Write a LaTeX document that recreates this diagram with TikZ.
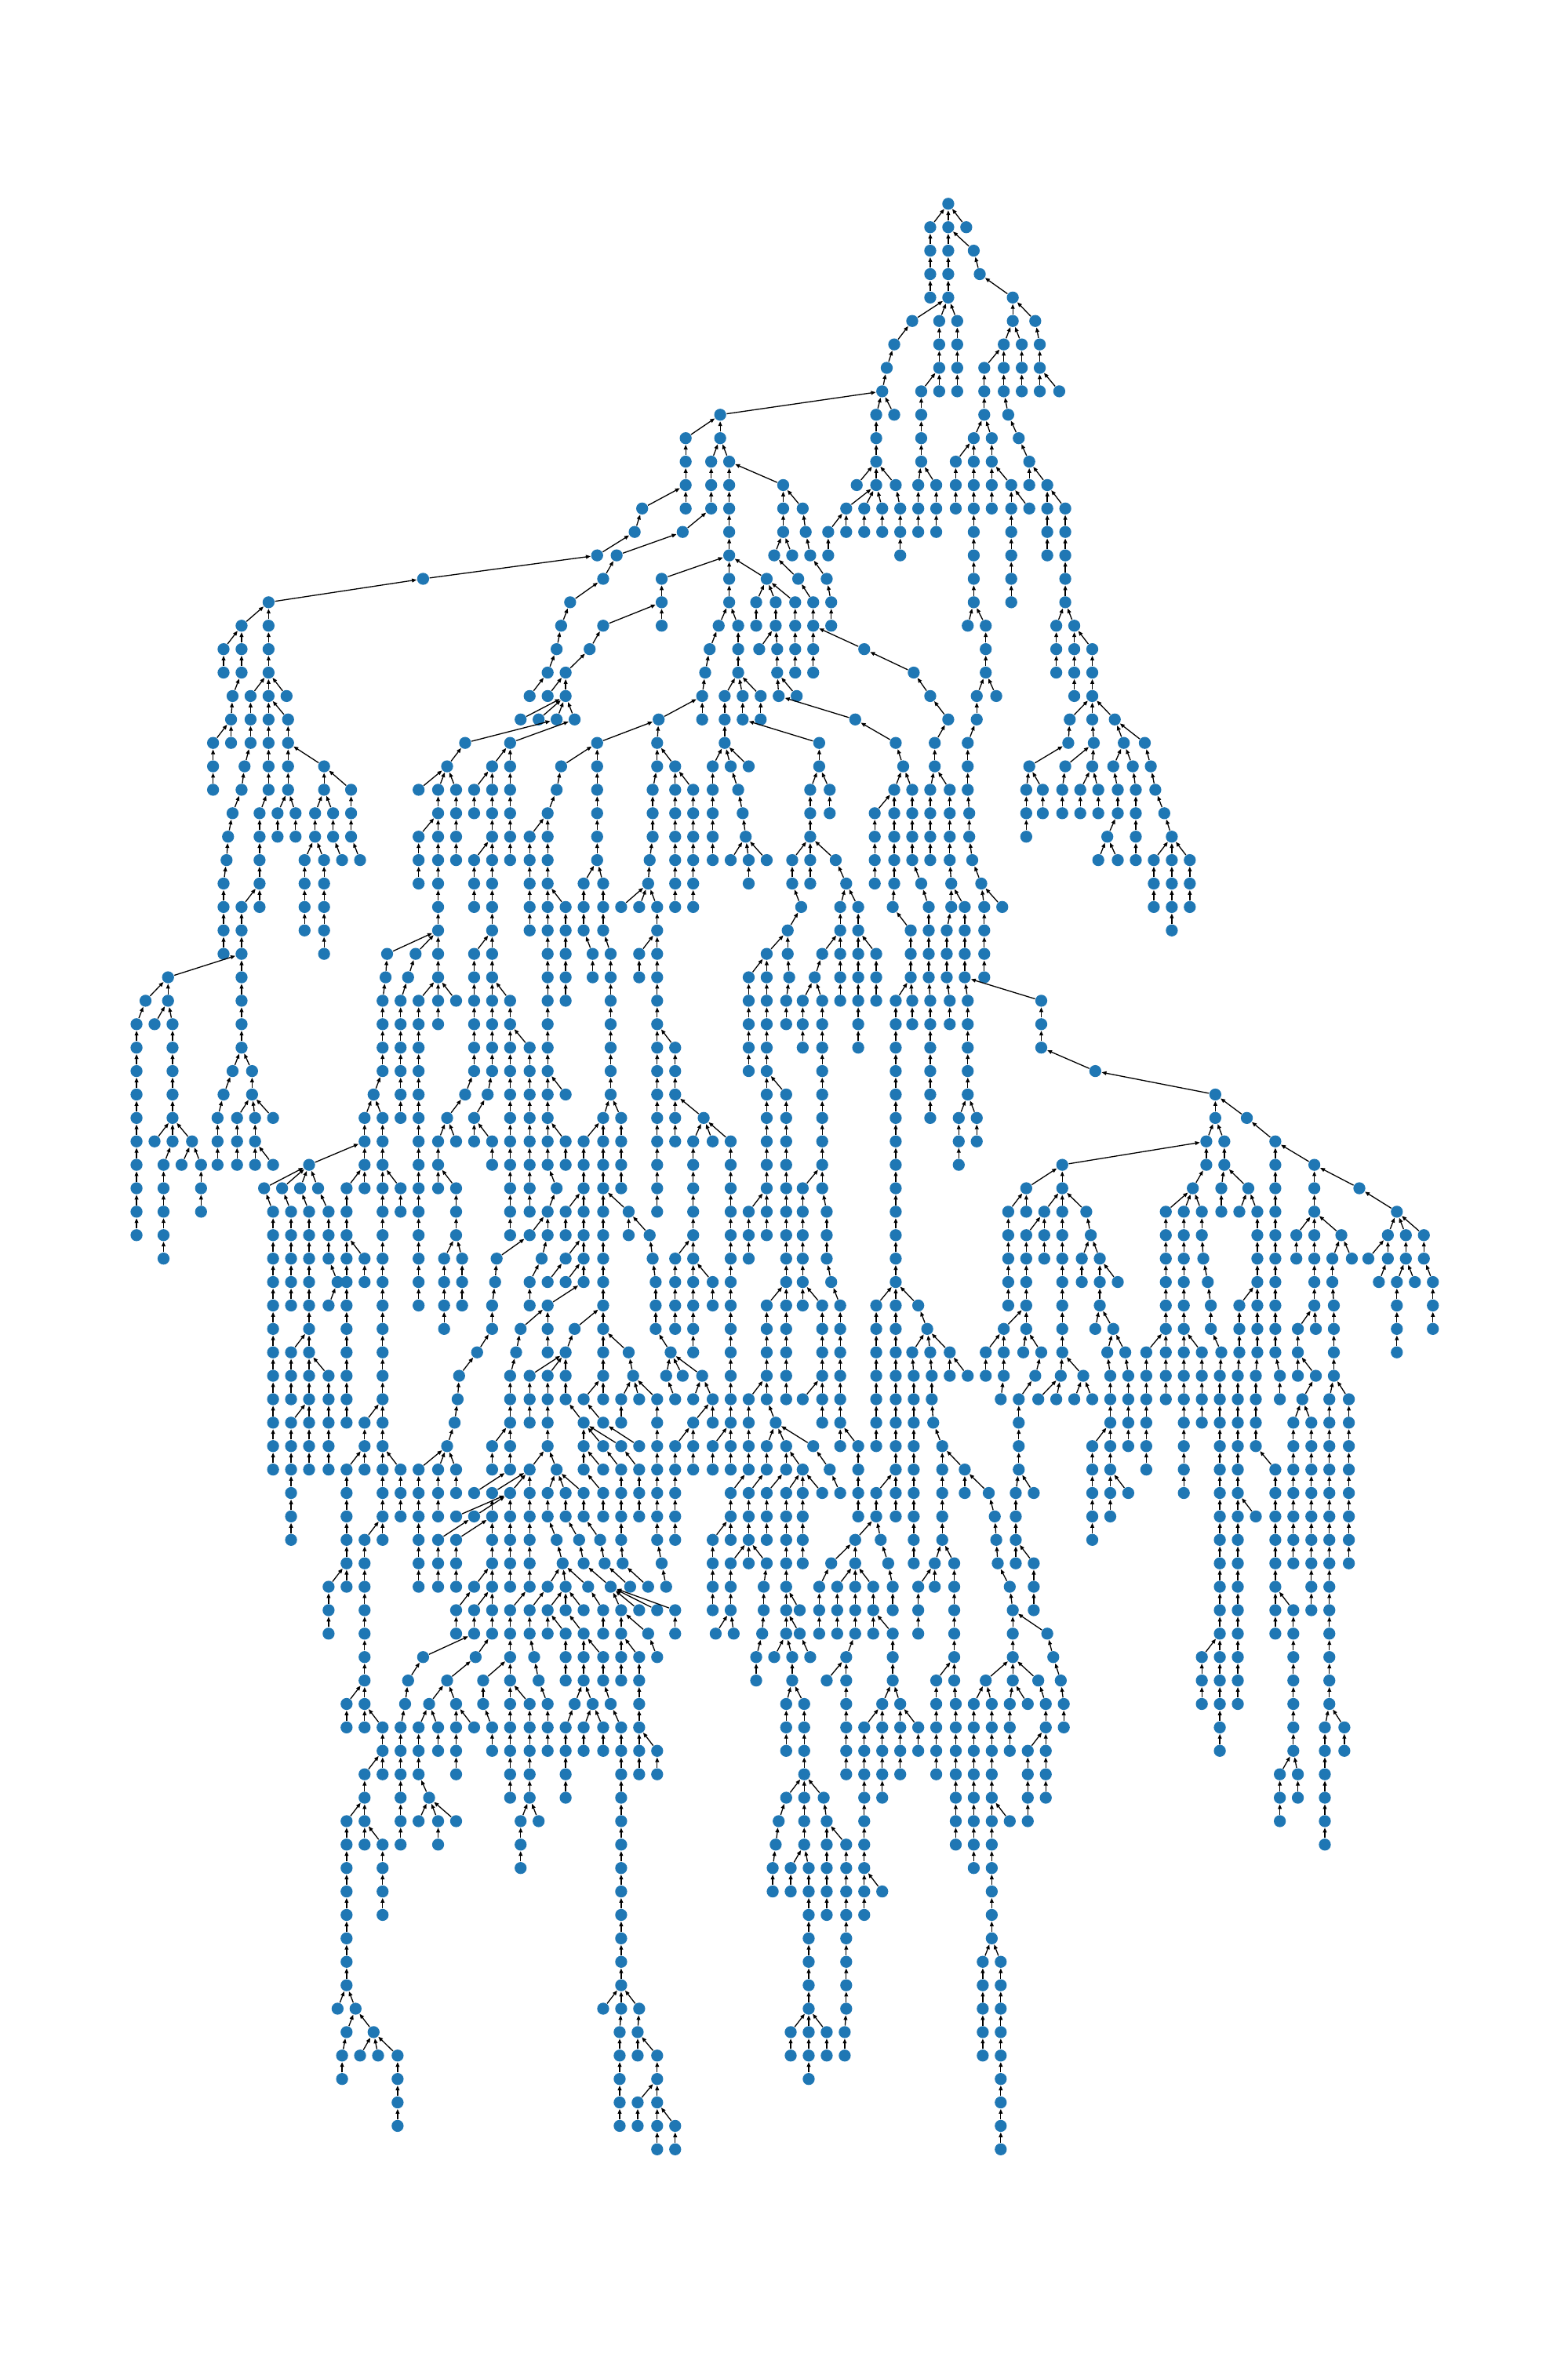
\documentclass[tikz,border=0pt]{standalone}
\usetikzlibrary{arrows.meta}
\definecolor{nxblue}{HTML}{1F77B4}
\tikzset{
  dot/.style={circle, fill=nxblue, draw=none, inner sep=0pt, minimum size=0.153cm},
  edge/.style={-{Triangle[length=0.06cm,width=0.048cm]}, line width=0.37pt, black}
}
\newcommand\lev[2]{%
  \pgfmathtruncatemacro\prevlev{#1-1}%
  \foreach \x/\p in {#2} {
    \node[dot] (n#1x\x) at (\x,#1) {};
    \draw[edge] (n#1x\x) -- (n\prevlev x\p);
  }%
}
\begin{document}
\begin{tikzpicture}[x=0.0191388cm, y=-0.29895cm]
\useasboundingbox (0,-8.694) rectangle (1045,91.69);
\node[dot] (n0x632) at (632,0) {};
\lev{1}{620/632,632/632,644/632}
\lev{2}{620/620,632/632,649/632}
\lev{3}{620/620,632/632,653/649}
\lev{4}{620/620,632/632,675/653}
\lev{5}{608/632,626/632,638/632,675/675,690/675}
\lev{6}{596/608,626/626,638/638,669/675,681/675,693/690}
\lev{7}{591/596,626/626,638/638,656/669,669/669,681/681,693/693}
\lev{8}{588/591,614/626,626/626,638/638,656/656,669/669,681/681,693/693,706/693}
\lev{9}{480/588,584/588,596/588,614/614,656/656,672/669}
\lev{10}{457/480,480/480,584/584,614/614,649/656,661/656,679/672}
\lev{11}{457/457,474/480,486/480,584/584,614/614,637/649,649/649,661/661,686/679}
\lev{12}{457/457,474/474,486/486,522/486,571/584,584/584,597/584,612/614,624/614,637/637,649/649,661/661,674/661,686/686,698/686}
\lev{13}{428/457,457/457,474/474,486/486,522/522,535/522,564/584,576/584,588/584,600/597,612/612,624/624,637/637,649/649,661/661,674/674,686/674,698/698,710/698}
\lev{14}{423/428,455/474,486/486,522/522,537/535,552/564,564/564,576/576,588/588,600/600,612/612,624/624,649/649,674/674,698/698,710/710}
\lev{15}{398/423,411/455,486/486,516/522,528/522,540/537,552/552,600/600,649/649,674/674,698/698,710/710}
\lev{16}{282/398,402/411,441/486,486/486,511/486,532/516,551/540,649/649,674/674,710/710}
\lev{17}{179/282,380/402,441/441,486/486,504/511,517/511,530/511,542/532,554/551,649/649,674/674,710/710}
\lev{18}{161/179,179/179,374/380,402/441,441/441,479/486,492/486,504/504,517/517,530/530,542/542,554/554,645/649,657/649,704/710,716/710}
\lev{19}{149/161,161/161,179/179,371/374,393/402,473/479,492/492,506/517,518/517,530/530,542/542,576/542,657/657,704/704,716/716,728/716}
\lev{20}{149/149,161/161,179/179,365/371,377/393,470/473,492/492,518/518,530/530,542/542,609/576,657/657,704/704,716/716,728/728}
\lev{21}{155/161,167/179,179/179,191/179,353/365,365/377,377/377,468/470,483/492,495/492,507/492,519/518,531/518,620/609,651/657,664/657,716/716,728/728}
\lev{22}{154/155,167/167,179/179,192/179,347/377,359/377,371/377,383/377,439/468,468/468,483/483,495/495,507/507,570/519,632/620,651/651,713/728,728/728,743/728}
\lev{23}{142/154,154/154,167/167,179/179,192/192,310/371,340/383,398/439,438/439,483/483,546/495,597/570,623/632,645/651,712/713,729/728,749/743,763/743}
\lev{24}{142/142,163/167,179/179,192/192,216/192,298/310,328/340,340/340,374/398,398/398,438/438,450/438,475/483,487/483,499/483,546/546,602/597,623/623,645/645,686/712,710/729,728/729,742/749,755/749,767/763}
\lev{25}{142/142,161/163,179/179,192/192,216/216,234/216,279/298,292/298,304/298,316/328,328/328,340/340,371/374,398/398,435/438,450/450,462/450,475/475,492/487,540/546,553/546,596/602,608/602,620/623,633/623,645/645,684/686,695/686,708/710,720/728,732/728,745/742,757/755,770/767}
\lev{26}{155/161,173/179,185/192,197/192,210/216,222/216,234/234,292/292,304/304,316/316,328/328,340/340,365/371,398/398,435/435,450/450,462/462,475/475,495/492,540/540,553/553,583/596,596/596,608/608,620/620,633/633,646/645,684/684,695/695,708/708,720/720,732/732,745/745,757/757,776/770}
\lev{27}{152/155,173/173,185/185,197/197,210/210,222/222,234/234,279/292,292/292,304/304,328/328,340/340,353/365,365/365,398/398,435/435,450/450,462/462,475/475,497/495,540/540,583/583,596/596,608/608,620/620,633/633,646/646,684/684,738/745,757/757,781/776}
\lev{28}{151/152,173/173,203/210,216/210,228/222,240/234,279/279,292/292,304/304,316/328,328/328,340/340,353/353,365/365,398/398,433/435,450/450,462/462,475/475,487/497,499/497,511/497,528/540,540/540,557/540,583/583,596/596,608/608,620/620,633/633,648/646,732/738,745/738,757/757,769/781,781/781,793/781}
\lev{29}{149/151,173/173,203/203,216/216,279/279,292/292,316/316,328/328,353/353,365/365,389/398,402/398,432/433,450/450,462/462,499/499,528/528,540/540,564/557,583/583,596/596,614/608,634/633,654/648,769/769,781/781,793/793}
\lev{30}{149/149,161/173,173/173,203/203,216/216,292/292,316/316,328/328,353/353,365/365,377/365,389/389,402/402,414/432,426/432,438/432,450/450,462/462,534/528,560/564,572/564,595/596,619/614,634/634,643/634,656/654,668/654,769/769,781/781,793/793}
\lev{31}{149/149,161/161,203/203,216/216,292/292,328/328,353/353,365/365,377/377,389/389,402/402,438/438,525/534,560/560,572/572,607/595,619/619,631/634,643/643,656/656,781/781}
\lev{32}{149/149,161/161,216/216,258/292,277/292,292/292,316/328,328/328,365/365,377/377,395/389,407/402,426/438,438/438,511/525,525/525,548/560,560/560,572/572,584/572,607/607,619/619,631/631,643/643,656/656}
\lev{33}{112/161,161/161,257/258,272/277,292/292,316/316,328/328,365/365,377/377,395/395,407/407,426/426,438/438,499/511,511/511,526/525,543/548,560/560,572/572,584/584,607/607,619/619,631/631,643/643,656/656}
\lev{34}{97/112,112/112,161/161,255/257,267/272,279/292,292/292,304/292,316/316,328/328,340/328,365/365,377/377,407/407,438/438,499/499,511/511,524/526,535/543,548/543,560/560,572/572,584/584,597/607,608/607,620/619,633/631,645/643,694/643}
\lev{35}{91/97,103/112,115/112,161/161,255/255,267/267,279/279,292/292,316/316,328/328,340/340,365/365,407/407,438/438,499/499,511/511,524/524,535/535,548/548,572/572,597/597,608/608,620/620,633/633,645/645,694/694}
\lev{36}{91/91,115/115,161/161,255/255,267/267,279/279,316/316,328/328,340/340,353/340,365/365,407/407,438/438,450/438,499/499,511/511,535/535,548/548,572/572,597/597,620/620,645/645,694/694}
\lev{37}{91/91,115/115,155/161,168/161,255/255,267/267,279/279,316/316,328/328,340/340,353/353,365/365,407/407,438/438,450/450,499/499,511/511,548/548,597/597,620/620,645/645,730/694}
\lev{38}{91/91,115/115,149/155,168/168,249/255,267/267,279/279,310/316,325/328,340/340,353/353,365/365,377/365,407/407,438/438,450/450,511/511,524/511,548/548,597/597,620/620,645/645,810/730}
\lev{39}{91/91,115/115,145/149,158/168,170/168,182/168,243/249,255/249,267/267,279/279,298/310,316/325,340/340,353/353,365/365,402/407,414/407,438/438,450/450,469/450,511/511,524/524,548/548,597/597,620/620,639/645,651/645,810/810,831/810}
\lev{40}{91/91,103/115,115/115,128/115,145/145,158/158,170/170,243/243,255/255,279/279,292/298,304/298,316/316,328/316,340/340,353/353,365/365,377/365,389/402,402/402,414/414,438/438,450/450,462/469,475/469,487/469,511/511,524/524,548/548,597/597,639/639,651/651,804/810,816/810,850/831}
\lev{41}{91/91,109/115,121/128,134/128,145/145,158/158,170/170,182/170,206/243,243/243,255/255,279/279,292/292,328/328,340/340,353/353,365/365,377/377,389/389,402/402,414/414,438/438,462/462,487/487,511/511,524/524,548/548,597/597,639/639,708/804,804/804,816/816,850/850,876/850}
\lev{42}{91/91,109/109,134/134,176/206,188/206,200/206,212/206,231/243,243/243,255/255,267/255,279/279,292/292,304/292,340/340,353/353,371/365,389/389,402/402,414/414,438/438,462/462,487/487,511/511,524/524,535/548,548/548,597/597,684/708,708/708,795/804,814/816,832/816,850/850,876/876,906/876}
\lev{43}{91/91,109/109,134/134,182/176,194/188,206/200,219/212,231/231,255/255,267/267,279/279,304/304,340/340,353/353,365/371,377/389,389/389,402/402,419/402,438/438,462/462,487/487,499/511,511/511,524/524,535/535,551/548,597/597,672/684,684/684,696/708,708/708,724/708,777/795,789/795,801/795,814/814,826/832,838/832,850/850,876/876,931/906}
\lev{44}{91/91,109/109,182/182,194/194,206/206,219/219,231/231,255/255,279/279,304/304,340/340,353/365,365/365,377/377,389/389,402/402,419/419,433/419,462/462,487/487,499/499,511/511,524/524,535/535,551/551,597/597,672/672,684/696,696/696,708/708,727/724,777/777,789/789,801/801,838/838,850/850,864/876,876/876,894/876,925/931,937/931,949/931}
\lev{45}{109/109,182/182,194/194,206/206,219/219,231/231,243/231,255/255,279/279,296/304,308/304,331/353,361/365,377/389,389/389,402/402,435/433,450/462,462/462,487/487,499/499,524/524,535/535,551/551,597/597,672/672,684/684,696/696,708/708,721/727,733/727,777/777,789/789,802/801,838/838,850/850,864/864,876/876,888/894,901/894,912/925,925/925,937/937,949/949}
\lev{46}{182/182,194/194,206/206,225/219,231/231,243/243,255/255,279/279,296/296,308/308,330/331,353/361,365/377,377/389,389/389,402/402,437/435,450/450,462/462,475/462,487/487,524/524,535/535,554/551,597/597,672/672,684/684,708/708,721/721,733/733,745/733,777/777,789/789,805/802,838/838,850/850,876/876,888/888,919/925,931/937,943/937,955/949}
\lev{47}{182/182,194/194,206/206,219/225,231/231,255/255,279/279,296/296,308/308,328/330,353/353,365/389,402/402,437/437,450/450,462/462,475/475,487/487,511/524,524/524,535/535,548/535,560/554,584/597,597/597,612/597,672/672,684/684,708/708,733/733,777/777,789/789,807/805,826/838,838/838,850/850,876/876,889/888,931/931,955/955}
\lev{48}{182/182,206/206,231/231,255/255,296/296,328/328,347/365,365/365,383/402,402/402,437/437,450/450,462/462,487/487,511/511,524/524,548/548,560/560,584/584,597/597,618/612,669/684,684/684,708/708,730/733,742/733,777/777,789/789,807/807,826/826,838/838,850/850,865/876,877/876,889/889,931/931,955/955}
\lev{49}{182/182,194/206,206/206,231/231,255/255,318/328,344/347,365/365,377/383,402/402,419/402,447/437,462/462,487/487,511/511,524/524,548/548,560/560,584/584,597/597,608/618,620/618,633/618,657/669,669/669,682/684,694/684,708/708,738/742,750/742,764/777,777/777,789/789,801/789,814/807,826/826,838/838,850/850,865/865,889/889,931/931}
\lev{50}{182/182,194/194,206/206,219/206,231/231,255/255,306/318,340/344,353/377,365/377,377/377,402/402,422/419,444/447,455/447,468/447,487/487,511/511,524/524,548/548,560/560,584/584,597/597,609/608,621/620,633/633,645/633,657/657,669/669,690/694,707/708,722/708,740/738,752/750,764/764,777/777,789/789,801/801,813/814,825/826,837/838,853/850,865/865,877/865,889/889}
\lev{51}{182/182,194/194,206/206,219/219,231/231,255/255,305/306,340/340,353/353,365/365,377/377,389/402,402/402,414/422,426/422,438/422,450/444,462/468,475/468,487/487,499/511,511/511,524/524,535/548,548/548,560/560,584/584,597/597,609/609,621/621,667/669,679/690,692/707,704/707,716/722,728/722,740/740,752/752,764/764,777/777,789/789,801/801,813/813,825/825,837/837,853/853,868/877,886/889,899/889}
\lev{52}{182/182,194/206,206/206,219/219,231/231,243/255,255/255,303/305,340/340,353/353,365/365,389/377,402/389,414/414,438/438,462/475,475/475,487/487,499/499,517/511,548/548,560/560,584/584,597/597,609/609,622/621,679/679,740/740,752/752,764/764,789/789,801/801,813/813,825/825,837/837,862/868,874/868,886/886,899/899}
\lev{53}{182/182,194/194,206/206,219/219,243/243,255/255,298/303,328/340,340/340,365/365,389/389,402/389,414/389,426/402,438/438,450/462,462/462,475/487,487/487,499/499,511/517,524/517,542/517,560/560,572/560,584/584,597/597,609/609,628/622,679/679,728/740,740/740,752/752,764/764,789/789,813/813,825/825,837/837,862/862,874/874,886/886,899/899}
\lev{54}{182/182,194/194,206/206,219/219,231/243,243/243,255/255,267/255,279/298,292/298,304/298,328/328,340/340,353/365,371/365,389/389,402/389,414/402,426/414,438/438,450/450,462/462,475/475,487/487,499/499,511/511,524/524,535/524,553/542,572/572,597/597,609/609,628/628,643/628,679/679,728/728,740/740,764/764,789/789,813/813,825/825,850/837,862/862,874/874,886/886,899/899}
\lev{55}{194/194,231/231,255/255,267/267,279/279,292/292,304/304,316/340,328/353,340/353,353/353,365/371,377/371,389/371,402/389,414/414,426/426,438/438,450/450,487/499,499/511,511/524,524/535,535/535,548/535,560/553,572/572,584/597,597/597,609/609,628/628,643/643,659/643,677/679,689/679,728/728,740/740,752/740,789/789,813/813,825/825,850/850,862/862,874/874,886/886,899/899}
\lev{56}{194/194,231/231,255/255,267/267,279/279,292/292,304/340,316/340,328/328,340/340,353/353,365/365,377/377,389/389,402/402,414/414,426/426,438/438,450/450,487/487,499/499,511/511,524/524,535/535,572/572,584/584,597/597,609/609,628/628,663/659,677/677,728/728,740/740,813/813,825/825,837/825,850/850,862/862,874/874,886/886,899/899}
\lev{57}{194/194,231/231,243/255,255/255,279/279,292/316,304/328,328/328,340/340,353/353,371/365,386/377,400/389,414/414,438/438,450/450,475/487,487/487,499/499,511/511,524/524,535/535,570/584,587/584,609/609,628/628,664/663,677/677,728/728,813/813,825/825,850/850,862/862,874/874,886/886,899/899}
\lev{58}{231/231,243/243,279/279,292/292,304/304,328/328,340/340,353/353,375/371,389/386,403/400,415/414,441/438,475/475,487/499,499/499,511/499,524/524,535/535,554/570,570/570,592/587,609/609,623/628,636/628,665/664,677/677,689/677,813/813,825/825,850/850,862/862,874/874,886/886,899/899}
\lev{59}{219/231,231/231,243/243,279/279,292/292,304/304,316/328,328/328,340/340,353/353,365/375,377/375,392/375,407/389,420/403,432/415,444/441,475/475,487/487,509/511,524/524,546/554,558/570,570/570,582/570,595/592,612/623,623/623,636/636,673/665,689/689,813/813,825/825,850/850,874/874,886/886}
\lev{60}{219/219,243/243,304/316,316/328,328/328,340/353,353/365,365/377,377/377,389/377,402/392,414/407,426/407,438/407,450/407,475/475,487/487,509/509,524/524,533/524,546/546,558/558,570/570,582/582,595/595,612/612,636/636,675/673,689/689,813/813,825/825,850/850,862/850,874/874,886/886}
\lev{61}{219/219,243/243,304/304,316/316,328/328,340/340,353/353,365/365,377/365,389/377,402/402,414/414,432/414,450/450,477/487,489/487,508/509,524/524,533/524,546/546,558/558,570/570,582/582,595/582,612/612,636/636,675/675,698/675,813/813,825/825,850/850,862/862,886/886}
\lev{62}{243/243,282/316,317/328,340/340,356/353,377/377,389/389,402/389,414/414,426/414,438/432,504/508,516/524,528/524,540/533,564/570,595/595,636/636,675/675,702/698,801/813,813/813,825/825,862/862,886/886}
\lev{63}{243/243,272/282,298/317,322/340,340/340,359/356,377/377,389/389,402/402,414/414,426/426,504/504,528/528,551/564,564/564,595/595,624/636,636/636,657/675,675/675,692/675,707/702,801/801,813/813,825/825,862/862,886/886}
\lev{64}{231/243,243/243,270/272,286/298,304/298,322/322,340/340,353/340,365/359,383/389,395/389,407/402,426/426,524/528,536/528,564/564,588/595,600/595,624/624,637/636,649/657,661/657,673/675,685/675,697/692,709/707,801/801,813/813,825/825,862/862,886/886}
\lev{65}{231/231,243/243,255/243,267/270,279/286,292/286,304/304,316/304,328/322,340/340,353/353,365/365,377/383,389/395,402/395,414/407,426/426,524/524,536/536,564/564,576/588,588/588,600/600,612/600,624/624,637/637,649/649,661/661,673/673,697/697,709/709,813/813,862/862,883/886,896/886}
\lev{66}{255/255,267/267,279/279,292/292,304/304,328/328,340/340,353/353,365/365,377/377,389/389,402/402,414/414,426/426,438/426,524/524,536/536,564/564,576/576,588/588,600/600,612/612,624/624,637/637,649/649,661/661,673/673,685/697,697/697,813/813,862/862,883/883,896/896}
\lev{67}{243/255,255/255,267/267,279/279,304/304,340/340,353/353,377/377,414/414,426/426,438/438,536/536,564/564,576/576,588/588,600/600,624/624,637/637,649/649,661/661,685/685,697/697,853/862,865/862,883/883}
\lev{68}{243/243,267/267,286/279,340/340,353/353,377/377,414/414,524/536,536/536,549/536,576/576,588/588,637/637,649/649,661/661,685/685,697/697,853/853,865/865,883/883}
\lev{69}{231/243,243/243,267/267,279/286,292/286,304/286,347/353,359/353,414/414,519/524,536/536,551/549,576/576,637/637,649/649,661/661,673/661,685/685,853/853,883/883}
\lev{70}{231/231,243/243,255/243,267/267,292/292,347/347,414/414,517/519,536/536,551/551,564/551,576/576,637/637,649/649,661/661,883/883}
\lev{71}{231/231,255/255,347/347,414/414,515/517,527/536,539/536,551/551,564/564,576/576,649/649,661/661}
\lev{72}{231/231,255/255,414/414,515/515,527/527,539/539,551/551,564/564,576/576,588/576,661/661}
\lev{73}{231/231,255/255,414/414,539/539,551/551,564/564,576/576,661/661}
\lev{74}{231/231,414/414,539/539,564/564,661/661}
\lev{75}{231/231,414/414,539/539,564/564,655/661,667/661}
\lev{76}{231/231,414/414,539/539,564/564,655/655,667/667}
\lev{77}{225/231,237/231,402/414,414/414,426/414,539/539,564/564,655/655,667/667}
\lev{78}{231/237,249/237,413/414,425/426,527/539,539/539,551/539,563/564,655/655,667/667}
\lev{79}{228/231,240/249,252/249,265/249,413/413,425/425,438/425,527/527,539/539,551/551,563/563,655/655,667/667}
\lev{80}{228/228,265/265,413/413,438/438,539/539,667/667}
\lev{81}{265/265,413/413,425/438,438/438,667/667}
\lev{82}{265/265,413/413,425/425,438/438,450/438,667/667}
\lev{83}{438/438,450/450,667/667}
\end{tikzpicture}
\end{document}
